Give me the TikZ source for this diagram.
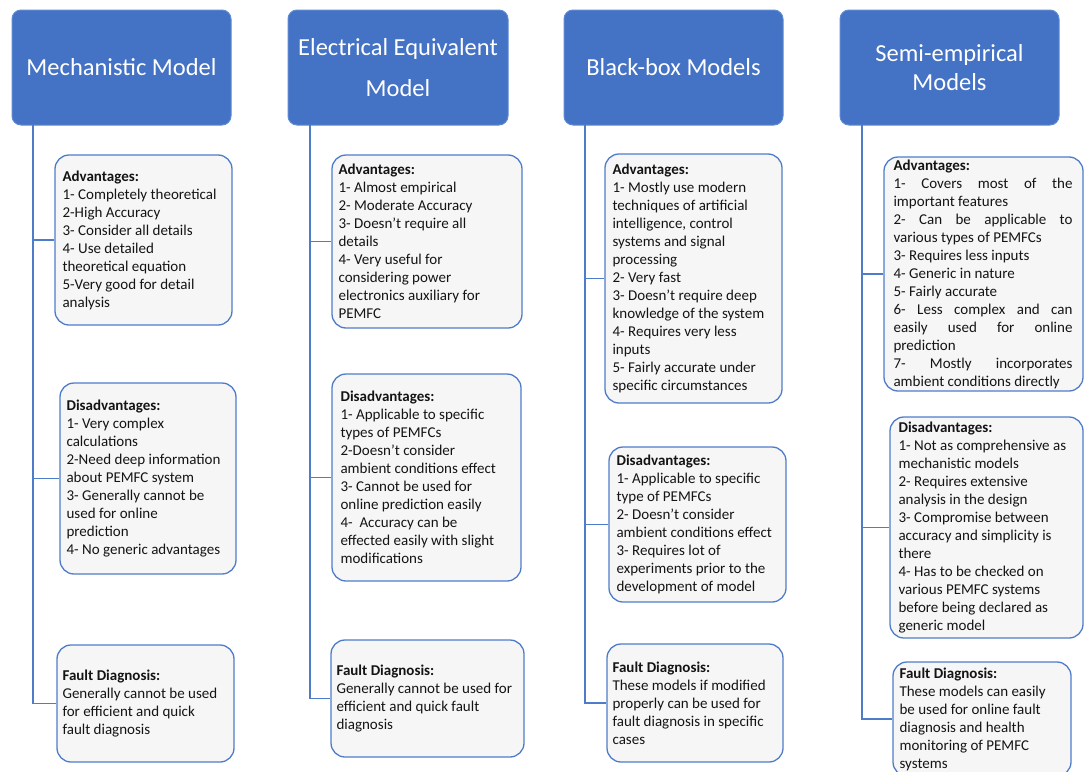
\documentclass[tikz,border=0pt]{standalone}
\usepackage{fontspec}
\setmainfont{Carlito}
\definecolor{hdrblue}{RGB}{68,114,196}
\definecolor{hdrborder}{RGB}{96,138,210}
\definecolor{lineblue}{RGB}{79,124,200}
\definecolor{boxfill}{RGB}{246,246,246}
\definecolor{txtcol}{RGB}{20,20,20}
\tikzset{
  hdr/.style={rectangle, rounded corners=9pt, draw=hdrborder, line width=1pt, fill=hdrblue,
    text=white, align=center, minimum width=219pt, minimum height=115pt, inner sep=0pt,
    font=\fontsize{24.5}{30}\selectfont},
  bx/.style={rectangle, rounded corners=14pt, draw=lineblue, line width=1.3pt, fill=boxfill, inner sep=0pt},
  txt/.style={anchor=west, align=left, inner sep=0pt, font=\fontsize{15}{18}\selectfont, text=txtcol},
  conn/.style={draw=lineblue, line width=1.4pt},
}
\begin{document}
\begin{tikzpicture}[x=1pt,y=-1pt]
\useasboundingbox (0,0) rectangle (1084,771);

% headers
\node[hdr] (h1) at (121.5,67.5) {Mechanistic Model};
\node[hdr, minimum width=220pt, font=\fontsize{24.5}{41}\selectfont] (h2) at (398,67.5) {Electrical Equivalent\\Model};
\node[hdr] (h3) at (673.5,67.5) {Black-box Models};
\node[hdr, font=\fontsize{24.5}{29}\selectfont] (h4) at (949.5,67.5) {Semi-empirical\\Models};

% spine start points
\coordinate (s1) at (33,125);
\coordinate (s2) at (310,125);
\coordinate (s3) at (585,125);
\coordinate (s4) at (862,125);

% column 1 boxes
\node[bx, minimum width=177pt, minimum height=170pt] (a1) at (143.5,240) {};
\node[bx, minimum width=176pt, minimum height=191pt] (d1) at (148,478.5) {};
\node[bx, minimum width=177pt, minimum height=117pt] (f1) at (145.5,703.5) {};
% column 2 boxes
\node[bx, minimum width=190pt, minimum height=173pt] (a2) at (427,241.5) {};
\node[bx, minimum width=189pt, minimum height=207pt] (d2) at (426.5,477.5) {};
\node[bx, minimum width=193pt, minimum height=117pt] (f2) at (427.5,698.5) {};
% column 3 boxes
\node[bx, minimum width=177pt, minimum height=249pt] (a3) at (693.5,278.5) {};
\node[bx, minimum width=177pt, minimum height=155pt] (d3) at (697.5,524.5) {};
\node[bx, minimum width=176pt, minimum height=118pt] (f3) at (695,703) {};
% column 4 boxes
\node[bx, minimum width=199pt, minimum height=234pt] (a4) at (983.5,274) {};
\node[bx, minimum width=193pt, minimum height=221pt] (d4) at (986.5,527.5) {};
\node[bx, minimum width=178pt, minimum height=114pt] (f4) at (982,719) {};

% connectors
\draw[conn] (s1) |- (f1.west);
\draw[conn] (a1.west) -- (a1.west -| s1);
\draw[conn] (d1.west) -- (d1.west -| s1);
\draw[conn] (s2) |- (f2.west);
\draw[conn] (a2.west) -- (a2.west -| s2);
\draw[conn] (d2.west) -- (d2.west -| s2);
\draw[conn] (s3) |- (f3.west);
\draw[conn] (a3.west) -- (a3.west -| s3);
\draw[conn] (d3.west) -- (d3.west -| s3);
\draw[conn] (s4) |- (f4.west);
\draw[conn] (a4.west) -- (a4.west -| s4);
\draw[conn] (d4.west) -- (d4.west -| s4);

% texts column 1
\node[txt] (a1t) at ([xshift=8pt]a1.west) {\textbf{Advantages:}\\1- Completely theoretical\\2-High Accuracy\\3- Consider all details\\4- Use detailed\\theoretical equation\\5-Very good for detail\\analysis};
\node[txt] (d1t) at ([xshift=7pt]d1.west) {\textbf{Disadvantages:}\\1- Very complex\\calculations\\2-Need deep information\\about PEMFC system\\3- Generally cannot be\\used for online\\prediction\\4- No generic advantages};
\node[txt] (f1t) at ([xshift=6pt]f1.west) {\textbf{Fault Diagnosis:}\\Generally cannot be used\\for efficient and quick\\fault diagnosis};

% texts column 2
\node[txt] (a2t) at ([xshift=7pt]a2.west) {\textbf{Advantages:}\\1- Almost empirical\\2- Moderate Accuracy\\3- Doesn’t require all\\details\\4- Very useful for\\considering power\\electronics auxiliary for\\PEMFC};
\node[txt] (d2t) at ([xshift=9pt]d2.west) {\textbf{Disadvantages:}\\1- Applicable to specific\\types of PEMFCs\\2-Doesn’t consider\\ambient conditions effect\\3- Cannot be used for\\online prediction easily\\4-\ \ Accuracy can be\\effected easily with slight\\modifications};
\node[txt] (f2t) at ([xshift=6pt]f2.west) {\textbf{Fault Diagnosis:}\\Generally cannot be used for\\efficient and quick fault\\diagnosis};

% texts column 3
\node[txt] (a3t) at ([xshift=8pt]a3.west) {\textbf{Advantages:}\\1- Mostly use modern\\techniques of artificial\\intelligence, control\\systems and signal\\processing\\2- Very fast\\3- Doesn’t require deep\\knowledge of the system\\4- Requires very less\\inputs\\5- Fairly accurate under\\specific circumstances};
\node[txt] (d3t) at ([xshift=8pt]d3.west) {\textbf{Disadvantages:}\\1- Applicable to specific\\type of PEMFCs\\2- Doesn’t consider\\ambient conditions effect\\3- Requires lot of\\experiments prior to the\\development of model};
\node[txt] (f3t) at ([xshift=6pt]f3.west) {\textbf{Fault Diagnosis:}\\These models if modified\\properly can be used for\\fault diagnosis in specific\\cases};

% texts column 4
\node[txt, align=none, text width=179pt] (a4t) at ([xshift=10pt]a4.west) {\parindent=0pt\textbf{Advantages:}\par
1- Covers most of the\linebreak important features\par
2- Can be applicable to\linebreak various types of PEMFCs\par
3- Requires less inputs\par
4- Generic in nature\par
5- Fairly accurate\par
6- Less complex and can\linebreak easily used for online\linebreak prediction\par
7- Mostly incorporates\linebreak ambient conditions directly\par};
\node[txt] (d4t) at ([xshift=9pt]d4.west) {\textbf{Disadvantages:}\\1- Not as comprehensive as\\mechanistic models\\2- Requires extensive\\analysis in the design\\3- Compromise between\\accuracy and simplicity is\\there\\4- Has to be checked on\\various PEMFC systems\\before being declared as\\generic model};
\node[txt] (f4t) at ([xshift=7pt]f4.west) {\textbf{Fault Diagnosis:}\\These models can easily\\be used for online fault\\diagnosis and health\\monitoring of PEMFC\\systems};
\end{tikzpicture}
\end{document}
